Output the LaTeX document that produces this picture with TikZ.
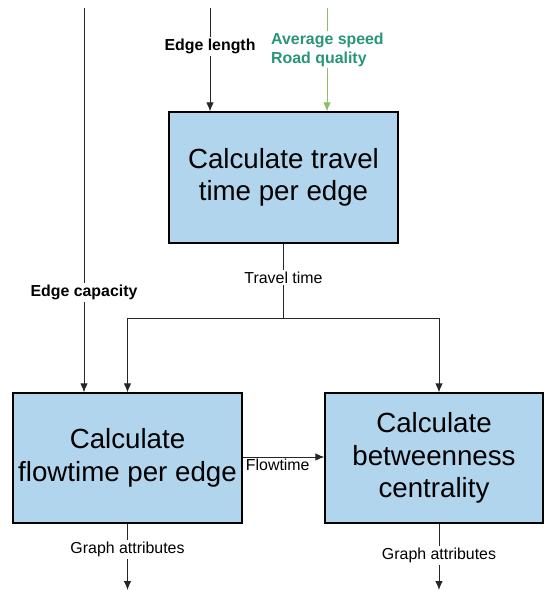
\documentclass[tikz,border=0pt]{standalone}
\usepackage{fontspec}
\setmainfont{Liberation Sans}
\usetikzlibrary{arrows.meta}
\definecolor{boxblue}{RGB}{178,213,238}
\definecolor{speedline}{RGB}{140,190,100}
\definecolor{speedtext}{RGB}{40,150,118}
\begin{document}
\begin{tikzpicture}[x=1pt,y=-1pt,
  proc/.style={draw=black, line width=1.2pt, fill=boxblue, align=center,
    inner sep=0pt, font=\fontsize{27.7}{32.5}\selectfont},
  flow/.style={draw=black!85, line width=1pt, -{Latex[length=9pt,width=7.5pt]}},
  plain/.style={draw=black!85, line width=1pt},
  lab/.style={fill=white, inner sep=2pt, font=\fontsize{15.9}{19}\selectfont},
  boldlab/.style={lab, font=\fontsize{15.9}{19}\selectfont\bfseries}]
\useasboundingbox (0,0) rectangle (544,590);

% processing steps
\node[proc, minimum width=229pt, minimum height=131pt] (travel) at (283.5,177.5)
  {Calculate travel\\time per edge};
\node[proc, minimum width=229pt, minimum height=130pt] (flow) at (127.5,458)
  {Calculate\\flowtime per edge};
\node[proc, minimum width=218pt, minimum height=130pt] (betw) at (434,458)
  {Calculate\\betweenness\\centrality};

% free ends of the inputs and outputs
\coordinate (capTop) at (84,8);
\coordinate (lenTop) at (210,8);
\coordinate (spdTop) at (327,8);
\coordinate (flowEnd) at (127.5,590);
\coordinate (betwEnd) at (439,590);
\path (travel.south) ++(0,75) coordinate (split);

% inputs
\draw[flow] (capTop) -- node[boldlab, pos=0.74] (caplab) {Edge capacity} (capTop |- flow.north);
\draw[flow] (lenTop) -- node[boldlab, pos=0.375] (lenlab) {Edge length} (lenTop |- travel.north);
\draw[flow, draw=speedline, -{Latex[length=9pt,width=7.5pt,fill=speedline]}] (spdTop) -- (spdTop |- travel.north);
\node[boldlab, text=speedtext, align=left, anchor=west] (spdlab) at (269,49.5)
  {Average speed\\Road quality};

% travel time to both later steps
\draw[plain] (travel.south) -- node[lab, pos=0.45] (ttlab) {Travel time} (split);
\draw[flow] (split) -| (flow.north);
\draw[flow] (split) -| ([xshift=5pt]betw.north);

% flowtime between the steps
\draw[flow] ([yshift=1pt]flow.east) -- node[pos=0.43, below=0pt, inner sep=1pt,
  font=\fontsize{15.9}{19}\selectfont] (ftlab) {Flowtime} ([yshift=1pt]betw.west);

% outputs
\draw[flow] (flow.south) -- node[lab, pos=0.39] (galab1) {Graph attributes} (flowEnd);
\draw[flow] ([xshift=5pt]betw.south) -- node[lab, pos=0.48] (galab2) {Graph attributes} (betwEnd);
\end{tikzpicture}
\end{document}
